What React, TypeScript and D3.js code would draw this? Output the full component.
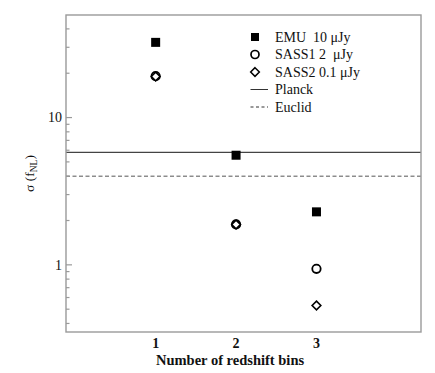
import React from 'react'
import * as d3 from 'd3'

// values
const bins = [1, 2, 3]
const emu = [32.4, 5.55, 2.29]
const sass1 = [19.1, 1.88, 0.94]
const sass2 = [19.0, 1.88, 0.53]
const planck = 5.8
const euclid = 4.0
const yMajor = [1, 10]
const yMinor = [0.4, 0.5, 0.6, 0.7, 0.8, 0.9, 2, 3, 4, 5, 6, 7, 8, 9, 20, 30, 40]
const legendItems = ['EMU  10 \u03bcJy', 'SASS1 2  \u03bcJy', 'SASS2 0.1 \u03bcJy', 'Planck', 'Euclid']

const W = 435
const H = 373
const m = { left: 66, top: 15, right: 421, bottom: 332 }
const serif = '"Liberation Serif", "Times New Roman", serif'
const frameColor = '#9a9a9a'

function App() {
    const x = d3.scaleLinear().domain([-0.115, 4.3]).range([m.left, m.right])
    const y = d3.scaleLog().domain([0.35, 49.7]).range([m.bottom, m.top])

    const diamond = d3.symbol().type(d3.symbolDiamond2).size(48)

    const lx = 255
    const ly = d3.scalePoint().domain(legendItems).range([37, 107])

    return (
        <div style={{ position: 'absolute', left: 0, top: 0 }}>
            <svg width={W} height={H} style={{ display: 'block', background: '#fff' }}>
                {/* reference lines */}
                <line x1={m.left} x2={m.right} y1={y(planck)} y2={y(planck)} stroke="#444" strokeWidth={1.1} />
                <line x1={m.left} x2={m.right} y1={y(euclid)} y2={y(euclid)} stroke="#555" strokeWidth={1} strokeDasharray="4,2.5" />

                {/* frame */}
                <rect x={m.left} y={m.top} width={m.right - m.left} height={m.bottom - m.top}
                    fill="none" stroke={frameColor} strokeWidth={1.4} />

                {/* y ticks, drawn inward */}
                {yMajor.map(v => (
                    <g key={'M' + v}>
                        <line x1={m.left} x2={m.left + 6} y1={y(v)} y2={y(v)} stroke={frameColor} strokeWidth={1.2} />
                        <text x={m.left - 4} y={y(v)} dy="0.35em" textAnchor="end"
                            fontFamily={serif} fontSize={14} fill="#111">{v}</text>
                    </g>
                ))}
                {yMinor.map(v => (
                    <line key={'m' + v} x1={m.left} x2={m.left + 3.5} y1={y(v)} y2={y(v)} stroke={frameColor} strokeWidth={1.2} />
                ))}

                {/* x tick labels */}
                {bins.map(b => (
                    <text key={'x' + b} x={x(b)} y={348} textAnchor="middle"
                        fontFamily={serif} fontWeight="bold" fontSize={14} fill="#111">{b}</text>
                ))}
                <text x={(x(1) + x(3)) / 2 - 6} y={365} textAnchor="middle"
                    fontFamily={serif} fontWeight="bold" fontSize={14.5} fill="#111">Number of redshift bins</text>

                {/* y label */}
                <text transform={`translate(34,${(m.top + m.bottom) / 2}) rotate(-90)`} textAnchor="middle"
                    fontFamily={serif} fontSize={13.5} fill="#111">
                    {'\u03c3 (f'}<tspan fontSize={9.5} dy="3">NL</tspan><tspan dy="-3">)</tspan>
                </text>

                {/* data */}
                {bins.map((b, i) => (
                    <g key={'d' + b}>
                        <rect x={x(b) - 4.5} y={y(emu[i]) - 4.5} width={9} height={9} fill="#000" />
                        <circle cx={x(b)} cy={y(sass1[i])} r={4.2} fill="#fff" stroke="#000" strokeWidth={1.8} />
                        <path d={diamond() as string} transform={`translate(${x(b)},${y(sass2[i])})`}
                            fill="#fff" stroke="#000" strokeWidth={1.6} />
                    </g>
                ))}

                {/* legend */}
                <rect x={lx - 4} y={ly(legendItems[0])! - 4} width={8} height={8} fill="#000" />
                <circle cx={lx} cy={ly(legendItems[1])} r={4} fill="#fff" stroke="#000" strokeWidth={1.7} />
                <path d={diamond() as string} transform={`translate(${lx},${ly(legendItems[2])})`}
                    fill="#fff" stroke="#000" strokeWidth={1.5} />
                <line x1={lx - 4.5} x2={lx + 13} y1={ly(legendItems[3])} y2={ly(legendItems[3])} stroke="#333" strokeWidth={1} />
                <line x1={lx - 4.5} x2={lx + 13} y1={ly(legendItems[4])} y2={ly(legendItems[4])} stroke="#333" strokeWidth={1} strokeDasharray="3,2.5" />
                {legendItems.map((t, i) => (
                    <text key={t} x={i < 3 ? lx + 20 : lx + 20} y={ly(t)} dy="0.35em"
                        fontFamily={serif} fontSize={14} fill="#111" style={{ whiteSpace: 'pre' }}>{t}</text>
                ))}
            </svg>
        </div>
    )
}

export default App
